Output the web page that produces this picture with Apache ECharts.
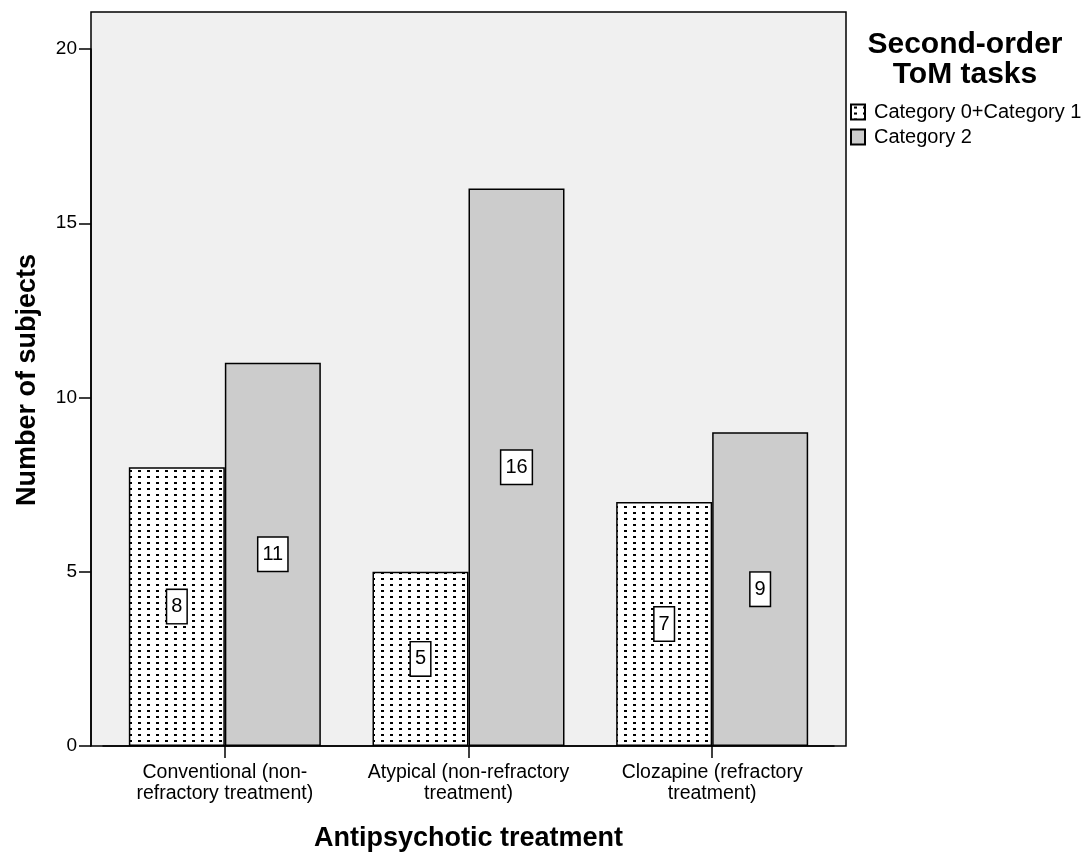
<!DOCTYPE html>
<html>
<head>
<meta charset="utf-8">
<script src="https://cdn.jsdelivr.net/npm/echarts@6/dist/echarts.min.js"></script>
<style>html,body{margin:0;padding:0;background:#fff}#c{width:1084px;height:854px}</style>
</head>
<body>
<div id="c"></div>
<script>
const categories = ['Conventional (non-\nrefractory treatment)', 'Atypical (non-refractory\ntreatment)', 'Clozapine (refractory\ntreatment)'];
const seriesNames = ['Category 0+Category 1', 'Category 2'];
const cat01Values = [8, 5, 7];
const cat2Values = [11, 16, 9];
const yTicks = [0, 5, 10, 15, 20];

const FONT = '"Liberation Sans", Arial, sans-serif';

// dotted pattern
const pc = document.createElement('canvas');
pc.width = 9; pc.height = 6;
const ctx = pc.getContext('2d');
ctx.fillStyle = '#ffffff';
ctx.fillRect(0, 0, 9, 6);
ctx.fillStyle = '#000000';
ctx.fillRect(3, 2, 3, 2);

const chart = echarts.init(document.getElementById('c'));

const labelCfg = {
  show: true,
  position: 'inside',
  color: '#000',
  fontFamily: FONT,
  fontSize: 20,
  lineHeight: 20,
  backgroundColor: '#fff',
  borderColor: '#000',
  borderWidth: 1.5,
  padding: [7, 4, 6, 4]
};

chart.setOption({
  animation: false,
  textStyle: { fontFamily: FONT },
  grid: [
    { left: 91, top: 12, width: 755, height: 734, show: true, backgroundColor: '#f0f0f0', borderColor: '#000', borderWidth: 1.5, z: 0, outerBoundsMode: 'none', containLabel: false },
    { left: 103, top: 49, width: 731, height: 697, outerBoundsMode: 'none', containLabel: false }
  ],
  xAxis: [
    { gridIndex: 0, type: 'value', show: false, min: 0, max: 1 },
    {
      gridIndex: 1, type: 'category', data: categories,
      axisLine: { show: true, lineStyle: { color: '#000', width: 1.5 } },
      axisTick: { show: true, alignWithLabel: true, length: 12, lineStyle: { color: '#000', width: 1.5 } },
      axisLabel: { color: '#000', fontSize: 19.5, lineHeight: 21, margin: 16, interval: 0, fontFamily: FONT },
      name: 'Antipsychotic treatment', nameLocation: 'middle', nameGap: 79,
      nameTextStyle: { color: '#000', fontSize: 27, fontWeight: 'bold', fontFamily: FONT }
    }
  ],
  yAxis: [
    { gridIndex: 0, type: 'value', show: false, min: 0, max: 1 },
    {
      gridIndex: 1, type: 'value', min: 0, max: 20, interval: 5, offset: 12,
      axisLine: { show: true, lineStyle: { color: '#000', width: 1.5 } },
      axisTick: { show: true, length: 12, lineStyle: { color: '#000', width: 1.5 } },
      axisLabel: { color: '#000', fontSize: 19, margin: 14, fontFamily: FONT,
        formatter: function (v) { return yTicks.indexOf(v) >= 0 ? String(v) : ''; } },
      splitLine: { show: false }
    }
  ],
  legend: {
    orient: 'vertical', left: 850, top: 102, itemWidth: 14, itemHeight: 15, itemGap: 5,
    padding: 0,
    icon: 'rect',
    textStyle: { color: '#000', fontSize: 20, fontFamily: FONT, padding: [0, 0, 0, 4] },
    data: seriesNames
  },
  graphic: [
    { type: 'text', x: 965, y: 30, z: 10,
      style: { text: 'Second-order\nToM tasks', fill: '#000', font: 'bold 30px ' + FONT, lineHeight: 30, align: 'center', verticalAlign: 'top' } },
    { type: 'text', x: 28, y: 380, rotation: Math.PI / 2, z: 10,
      style: { text: 'Number of subjects', fill: '#000', font: 'bold 27px ' + FONT, align: 'center', verticalAlign: 'middle' } }
  ],
  series: [
    {
      name: seriesNames[0], type: 'bar', xAxisIndex: 1, yAxisIndex: 1,
      data: cat01Values, barWidth: 96, barGap: '0%',
      itemStyle: { color: { image: pc, repeat: 'repeat' }, borderColor: '#000', borderWidth: 1.5 },
      label: labelCfg
    },
    {
      name: seriesNames[1], type: 'bar', xAxisIndex: 1, yAxisIndex: 1,
      data: cat2Values, barWidth: 96, barGap: '0%',
      itemStyle: { color: '#cccccc', borderColor: '#000', borderWidth: 1.5 },
      label: labelCfg
    }
  ]
});
</script>
</body>
</html>
